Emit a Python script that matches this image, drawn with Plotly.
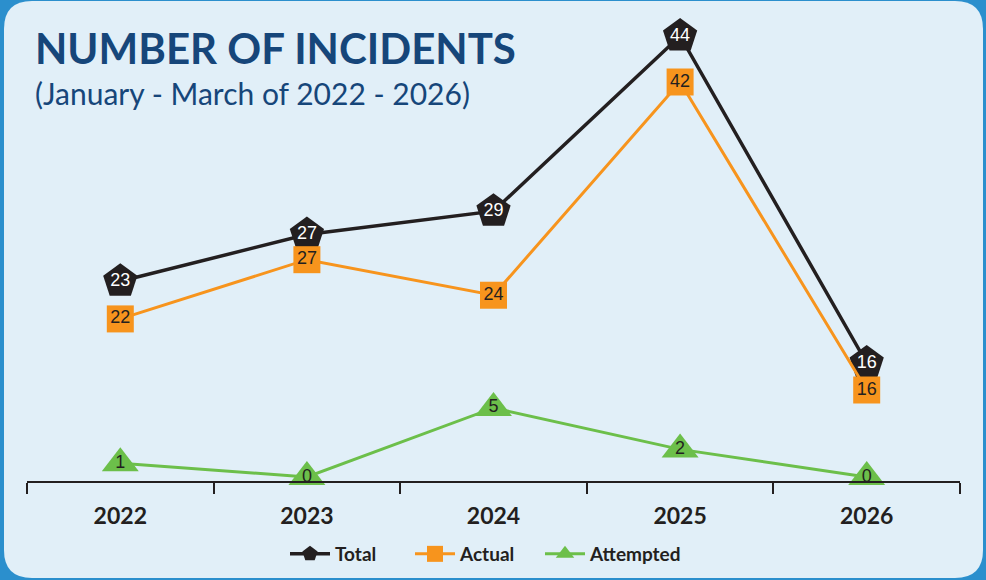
import plotly.graph_objects as go

years = ["2022", "2023", "2024", "2025", "2026"]
total = [23, 27, 29, 44, 16]
actual = [22, 27, 24, 42, 16]
attempted = [1, 0, 5, 2, 0]

W, H = 986, 580
L, R, T, B = 27, 26, 20, 99
PW, PH = W - L - R, H - T - B


def px(x, y):
    return (x - L) / PW, (H - B - y) / PH


def rounded_rect(x0, y0, x1, y1, r):
    def P(x, y):
        a, b = px(x, y)
        return f"{a:.5f},{b:.5f}"
    s = f"M {P(x0 + r, y0)} L {P(x1 - r, y0)} Q {P(x1, y0)} {P(x1, y0 + r)} "
    s += f"L {P(x1, y1 - r)} Q {P(x1, y1)} {P(x1 - r, y1)} "
    s += f"L {P(x0 + r, y1)} Q {P(x0, y1)} {P(x0, y1 - r)} "
    s += f"L {P(x0, y0 + r)} Q {P(x0, y0)} {P(x0 + r, y0)} Z"
    return s


fig = go.Figure()

fig.add_trace(go.Scatter(
    x=years, y=actual, name="Actual", mode="lines+markers+text",
    yaxis="y3", legend="legend2", cliponaxis=False,
    line=dict(color="#f7941d", width=3),
    marker=dict(symbol="square", size=27, color="#f7941d"),
    text=[str(v) for v in actual], textposition="middle center",
    textfont=dict(family="Liberation Sans", size=18, color="#231f20"),
))
fig.add_trace(go.Scatter(
    x=years, y=attempted, name="Attempted", mode="lines+markers+text",
    yaxis="y2", legend="legend3", cliponaxis=False,
    line=dict(color="#6cbf4a", width=3),
    marker=dict(symbol="triangle-up", size=32, color="#6cbf4a"),
    text=[str(v) for v in attempted], textposition="middle center",
    textfont=dict(family="Liberation Sans", size=18, color="#231f20"),
))
fig.add_trace(go.Scatter(
    x=years, y=total, name="Total", mode="lines+markers+text",
    legend="legend", cliponaxis=False,
    line=dict(color="#231f20", width=3.5),
    marker=dict(symbol="pentagon", size=36, color="#231f20"),
    text=[str(v) for v in total], textposition="middle center",
    textfont=dict(family="Liberation Sans", size=18, color="white"),
))

leg_font = dict(family="Lato", size=19, color="#231f20", weight="bold")
legend_y = px(0, 554)[1]


def leg(xpix):
    return dict(orientation="h", x=px(xpix, 0)[0], xanchor="left", y=legend_y, yanchor="middle",
                font=leg_font, bgcolor="rgba(0,0,0,0)", itemwidth=40)


fig.update_layout(
    width=W, height=H,
    margin=dict(l=L, r=R, t=T, b=B, pad=0, autoexpand=False),
    paper_bgcolor="#2b8fcd",
    plot_bgcolor="rgba(0,0,0,0)",
    showlegend=True,
    legend=leg(285),
    legend2=leg(410),
    legend3=leg(540),
    xaxis=dict(type="category", range=[-0.5, 4.5], showgrid=False, zeroline=False,
               showline=True, linecolor="#231f20", linewidth=2,
               ticks="outside", tickson="boundaries", ticklen=11, tickwidth=1.5, tickcolor="#231f20",
               ticklabelstandoff=13, automargin=False,
               tickfont=dict(family="Lato", size=23, color="#231f20", weight="bold")),
    yaxis=dict(range=[5.896, 45.370], visible=False, showgrid=False, zeroline=False),
    yaxis3=dict(range=[8.318, 47.234], overlaying="y", visible=False, showgrid=False, zeroline=False),
    yaxis2=dict(range=[-0.29, 33.1], overlaying="y", visible=False, showgrid=False, zeroline=False),
    shapes=[dict(type="path", xref="paper", yref="paper", layer="below",
                 path=rounded_rect(4, 1, 983, 578, 28),
                 fillcolor="#e1eff8", line=dict(width=0))],
    annotations=[
        dict(text="NUMBER OF INCIDENTS", xref="paper", yref="paper",
             x=px(33, 0)[0], y=px(0, 48)[1], xanchor="left", yanchor="middle", showarrow=False,
             font=dict(family="Lato", size=42, color="#16467a", weight="bold")),
        dict(text="(January - March of 2022 - 2026)", xref="paper", yref="paper",
             x=px(33, 0)[0], y=px(0, 93)[1], xanchor="left", yanchor="middle", showarrow=False,
             font=dict(family="Lato", size=30, color="#16467a")),
    ],
)

fig.write_html("out.html", config={"displayModeBar": False},
               post_script="document.body.style.margin='0';document.body.style.overflow='hidden';")
